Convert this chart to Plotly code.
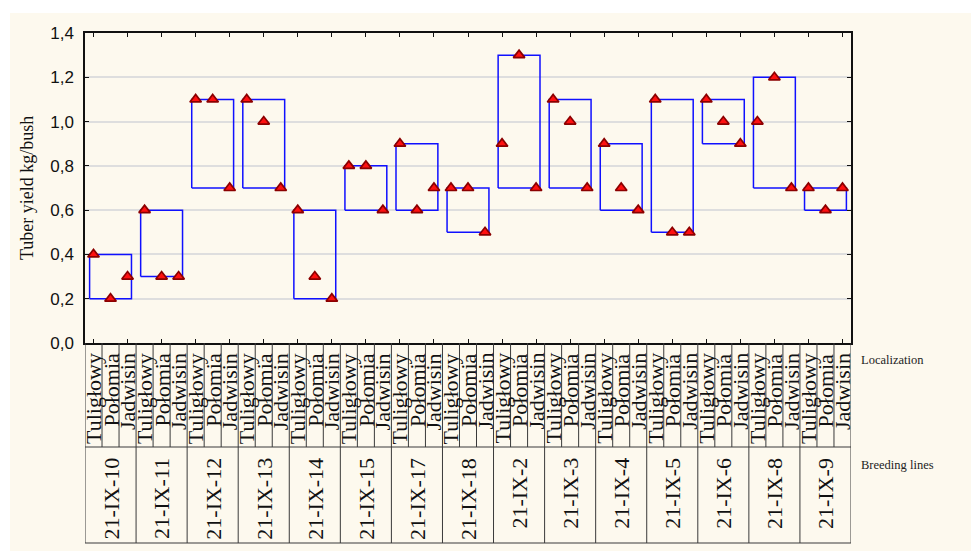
import plotly.graph_objects as go

# Tuber yield (kg per bush) of breeding lines at three localizations
breeding_lines = ["21-IX-10", "21-IX-11", "21-IX-12", "21-IX-13", "21-IX-14",
                  "21-IX-15", "21-IX-17", "21-IX-18", "21-IX-2", "21-IX-3",
                  "21-IX-4", "21-IX-5", "21-IX-6", "21-IX-8", "21-IX-9"]
localizations = ["Tuligłowy", "Połomia", "Jadwisin"]
yield_tuliglowy = [0.4, 0.6, 1.1, 1.1, 0.6, 0.8, 0.9, 0.7, 0.9, 1.1, 0.9, 1.1, 1.1, 1.0, 0.7]
yield_polomia = [0.2, 0.3, 1.1, 1.0, 0.3, 0.8, 0.6, 0.7, 1.3, 1.0, 0.7, 0.5, 1.0, 1.2, 0.6]
yield_jadwisin = [0.3, 0.3, 0.7, 0.7, 0.2, 0.6, 0.7, 0.5, 0.7, 0.7, 0.6, 0.5, 0.9, 0.7, 0.7]
y_ticks = [0.0, 0.2, 0.4, 0.6, 0.8, 1.0, 1.2, 1.4]

series = [yield_tuliglowy, yield_polomia, yield_jadwisin]
n_loc = len(localizations)
n_groups = len(breeding_lines)
n_slots = n_groups * n_loc

# figure geometry (pixels)
W, H = 971, 551
L, R, T, B = 85, 851, 33, 343
PLOT_H = B - T
PLOT_W = R - L


def py(p):
    """pixel row -> paper y"""
    return (B - p) / PLOT_H


def px(p):
    """pixel column -> paper x"""
    return (p - L) / PLOT_W


SERIF = "Liberation Serif"
SANS = "Liberation Sans"
LINE = "#3a3a3a"

fig = go.Figure()

# range boxes (min..max of each breeding line)
bx, by = [], []
for g in range(n_groups):
    vals = [s[g] for s in series]
    lo, hi = min(vals), max(vals)
    x0 = g * n_loc + 0.27
    x1 = g * n_loc + n_loc - 0.27
    bx += [x0, x1, x1, x0, x0, None]
    by += [lo, lo, hi, hi, lo, None]
fig.add_trace(go.Scatter(x=bx, y=by, mode="lines",
                         line=dict(color="#1010ff", width=1.5),
                         hoverinfo="skip", showlegend=False))

# individual measurements
mx, my = [], []
for g in range(n_groups):
    for k in range(n_loc):
        mx.append(g * n_loc + k + 0.5)
        my.append(series[k][g])
fig.add_trace(go.Scatter(x=mx, y=my, mode="markers",
                         marker=dict(symbol="triangle-up", size=10, color="#ff1010",
                                     line=dict(color="#8b0000", width=1.7)),
                         showlegend=False))

shapes = []
# cream page background
shapes.append(dict(type="rect", xref="paper", yref="paper",
                   x0=px(10), x1=px(W + 5), y0=py(13), y1=py(H + 5),
                   fillcolor="#fdf9ee", line=dict(width=0), layer="below"))

# category table below the plot
y_axis = py(B)
y_mid = py(447)
y_bot = py(543)
for i in range(n_slots + 1):
    shapes.append(dict(type="line", xref="x", yref="paper", x0=i, x1=i,
                       y0=y_axis, y1=y_mid, line=dict(color=LINE, width=1)))
for g in range(n_groups + 1):
    shapes.append(dict(type="line", xref="x", yref="paper", x0=g * n_loc, x1=g * n_loc,
                       y0=y_mid, y1=y_bot, line=dict(color=LINE, width=1)))
for yy in (y_mid, y_bot):
    shapes.append(dict(type="line", xref="x", yref="paper", x0=0, x1=n_slots,
                       y0=yy, y1=yy, line=dict(color=LINE, width=1.2)))

annotations = []
for g in range(n_groups):
    for k in range(n_loc):
        annotations.append(dict(x=g * n_loc + k + 0.5, y=py(351), xref="x", yref="paper",
                                text=localizations[k], textangle=-90, showarrow=False,
                                xanchor="center", yanchor="top",
                                font=dict(family=SERIF, size=22, color="#111111")))
    annotations.append(dict(x=g * n_loc + n_loc / 2, y=py(456), xref="x", yref="paper",
                            text=breeding_lines[g], textangle=-90, showarrow=False,
                            xanchor="center", yanchor="top",
                            font=dict(family=SERIF, size=22, color="#111111")))

annotations.append(dict(x=px(859), y=py(360), xref="paper", yref="paper",
                        text="Localization", showarrow=False, xanchor="left", yanchor="middle",
                        font=dict(family=SERIF, size=12.5, color="#222222")))
annotations.append(dict(x=px(859), y=py(465), xref="paper", yref="paper",
                        text="Breeding lines", showarrow=False, xanchor="left", yanchor="middle",
                        font=dict(family=SERIF, size=12.5, color="#222222")))
annotations.append(dict(x=px(27), y=0.5, xref="paper", yref="paper",
                        text="Tuber yield kg/bush", textangle=-90, showarrow=False,
                        xanchor="center", yanchor="middle",
                        font=dict(family=SERIF, size=18, color="#111111")))

fig.update_layout(
    width=W, height=H,
    margin=dict(l=L, r=W - R, t=T, b=H - B, pad=0),
    paper_bgcolor="white",
    plot_bgcolor="white",
    separators=",.",
    shapes=shapes,
    annotations=annotations,
    xaxis=dict(range=[0, n_slots], showgrid=False, zeroline=False,
               tickvals=[i + 0.5 for i in range(0, n_slots, 2)],
               showticklabels=False, ticks="inside", ticklen=4, tickwidth=1.2,
               tickcolor="#111111",
               showline=True, linecolor="#111111", linewidth=1.5, mirror="ticks"),
    yaxis=dict(range=[0, 1.4], tickvals=y_ticks, tickformat=".1f",
               showgrid=True, gridcolor="#dedede", gridwidth=1.5, zeroline=False,
               ticks="inside", ticklen=4, tickwidth=1.2, tickcolor="#111111",
               showline=True, linecolor="#111111", linewidth=1.5, mirror="ticks",
               ticklabelstandoff=6,
               tickfont=dict(family=SANS, size=17, color="#111111")),
)

fig.write_html("out.html")
